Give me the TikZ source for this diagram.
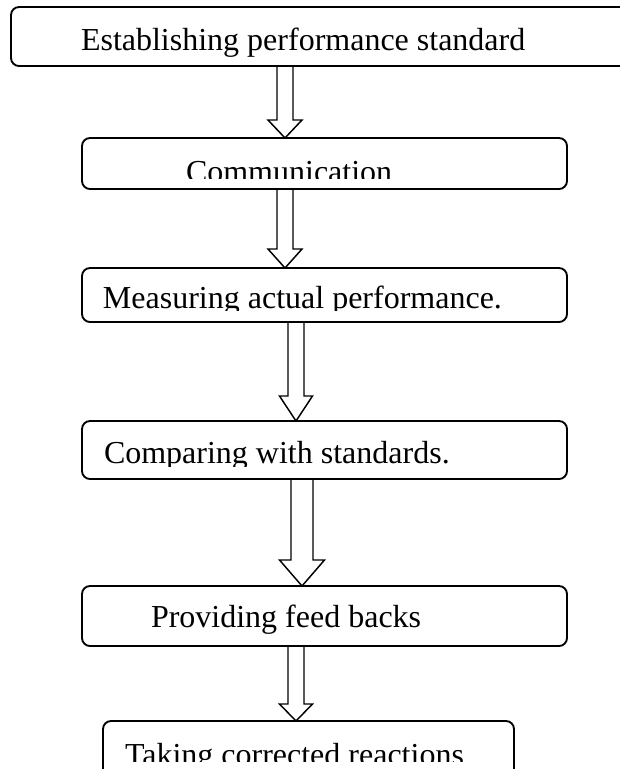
\documentclass[tikz,border=0pt]{standalone}
\usepackage{fontspec}
\setmainfont{Liberation Serif}
\usetikzlibrary{calc}
\def\px{0.75pt}
\tikzset{
  box/.style={draw=black, line width=1.4pt, rounded corners=8*\px, rectangle, inner sep=0pt, outer sep=0pt},
  txt/.style={inner sep=0pt, outer sep=0pt, anchor=base west, font=\fontsize{24}{28}\selectfont},
  arrowline/.style={draw=black, line width=1.1pt, line join=miter}
}
% #1 source node, #2 target node, #3 x coordinate, #4 shaft half width, #5 head half width, #6 head length
\newcommand{\hollowarrow}[6]{%
  \draw[arrowline] ($(#1.south -| #3)+(-#4,0)$) -- ($(#2.north -| #3)+(-#4,-#6)$)
    -- ($(#2.north -| #3)+(-#5,-#6)$) -- (#2.north -| #3)
    -- ($(#2.north -| #3)+(#5,-#6)$) -- ($(#2.north -| #3)+(#4,-#6)$)
    -- ($(#1.south -| #3)+(#4,0)$);
}
\begin{document}
\begin{tikzpicture}[x=0.75pt, y=-0.75pt]
\useasboundingbox (0,0) rectangle (620,769);
\clip (0,0) rectangle (620,769);

% boxes
\node[box, minimum width=630*\px, minimum height=59*\px] (b1) at (326,36.5) {};
\node[box, minimum width=485*\px, minimum height=51*\px] (b2) at (324.5,163.5) {};
\node[box, minimum width=485*\px, minimum height=54*\px] (b3) at (324.5,295) {};
\node[box, minimum width=485*\px, minimum height=58*\px] (b4) at (324.5,450) {};
\node[box, minimum width=485*\px, minimum height=60*\px] (b5) at (324.5,616) {};
\node[box, minimum width=411*\px, minimum height=70*\px] (b6) at (308.5,756) {};

% texts (some are cut at the bottom as in the original)
\node[txt] (t1) at (81,50) {Establishing performance standard};
\begin{scope}
  \clip (0,0) rectangle (620,178);
  \node[txt] (t2) at (186,182) {Communication};
\end{scope}
\begin{scope}
  \clip (0,0) rectangle (620,310);
  \node[txt] (t3) at (103,308) {Measuring actual performance.};
\end{scope}
\begin{scope}
  \clip (0,0) rectangle (620,466);
  \node[txt] (t4) at (104,463) {Comparing with standards.};
\end{scope}
\node[txt] (t5) at (151,627) {Providing feed backs};
\begin{scope}
  \clip (0,0) rectangle (620,761);
  \node[txt] (t6) at (125,765) {Taking corrected reactions};
\end{scope}

% arrow axes
\coordinate (x1) at (285,0);
\coordinate (x2) at (285,0);
\coordinate (x3) at (296,0);
\coordinate (x4) at (302,0);
\coordinate (x5) at (296,0);

\hollowarrow{b1}{b2}{x1}{8}{17}{18}
\hollowarrow{b2}{b3}{x2}{8}{17}{19}
\hollowarrow{b3}{b4}{x3}{8}{16.5}{25}
\hollowarrow{b4}{b5}{x4}{11}{22.5}{26}
\hollowarrow{b5}{b6}{x5}{8}{16.5}{17}
\end{tikzpicture}
\end{document}
